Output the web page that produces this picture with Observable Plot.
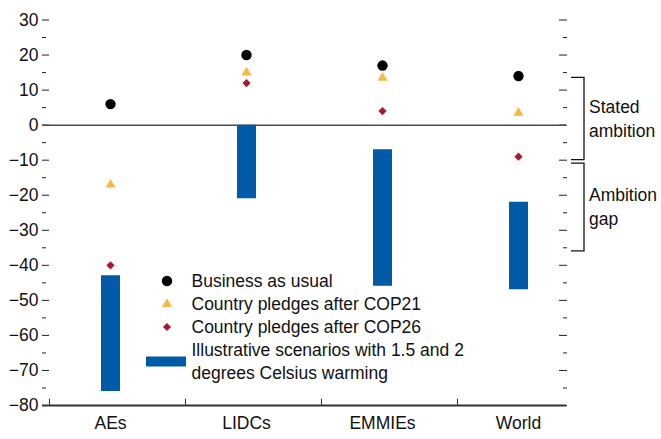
<!DOCTYPE html>
<html>
<head>
<meta charset="utf-8">
<script src="https://cdn.jsdelivr.net/npm/d3@7"></script>
<script src="https://cdn.jsdelivr.net/npm/@observablehq/plot@0.6"></script>
<style>
  html, body { margin: 0; padding: 0; background: #fff; }
  #chart { position: relative; width: 661px; height: 439px; }
</style>
</head>
<body>
<div id="chart"></div>
<script>
// ---- data ----
const categories = ["AEs", "LIDCs", "EMMIEs", "World"];
const businessAsUsual = [6, 20, 17, 14];
const pledgesCOP21 = [-17, 15, 13.5, 3.5];
const pledgesCOP26 = [-40, 12, 4, -9];
const scenarioLow = [-76, -21, -46, -47];
const scenarioHigh = [-43, 0, -7, -22];
const yTicksMajor = [30, 20, 10, 0, -10, -20, -30, -40, -50, -60, -70, -80];
const yTicksMinor = [25, 15, 5, -5, -15, -25, -35, -45, -55, -65, -75];
const brackets = [
  {label: ["Stated", "ambition"], top: 13.5, bottom: -10},
  {label: ["Ambition", "gap"], top: -11, bottom: -36}
];
const legendItems = [
  {kind: "dot", text: ["Business as usual"]},
  {kind: "triangle", text: ["Country pledges after COP21"]},
  {kind: "diamond", text: ["Country pledges after COP26"]},
  {kind: "bar", text: ["Illustrative scenarios with 1.5 and 2", "degrees Celsius warming"]}
];

const rows = categories.map((c, i) => ({
  cat: c, bau: businessAsUsual[i], cop21: pledgesCOP21[i], cop26: pledgesCOP26[i],
  low: scenarioLow[i], high: scenarioHigh[i]
}));

const BLUE = "#005AA6", YELLOW = "#F5B942", RED = "#A6192E";
const FONT = 17.5;
const FAMILY = '"Liberation Sans Narrow", "Arial Narrow", "Liberation Sans", sans-serif';
const xRange = [42, 586];
const bw = (xRange[1] - xRange[0]) / categories.length;
const fmt = d => d < 0 ? "\u2212" + Math.abs(d) : String(d);

const chart = Plot.plot({
  width: 661,
  height: 439,
  marginTop: 19.5,
  marginBottom: 34,
  marginLeft: 42,
  marginRight: 95,
  style: {fontFamily: FAMILY, fontSize: FONT + "px", color: "#111"},
  x: {type: "band", domain: categories, range: xRange, padding: 0, label: null},
  y: {domain: [-80, 30], label: null},
  marks: [
    Plot.axisY({ticks: yTicksMajor, tickSize: 0, tickPadding: 4, tickFormat: fmt, fontSize: FONT, label: null}),
    Plot.axisY({ticks: yTicksMajor, tickSize: 7, dx: 7, tickFormat: () => "", label: null, stroke: "#222"}),
    Plot.axisY({ticks: yTicksMinor, tickSize: 4, dx: 4, tickFormat: () => "", label: null, stroke: "#222"}),
    Plot.axisY({anchor: "right", ticks: yTicksMajor, tickSize: 8, dx: -8, tickFormat: () => "", label: null, stroke: "#222"}),
    Plot.axisY({anchor: "right", ticks: yTicksMinor, tickSize: 4, dx: -4, tickFormat: () => "", label: null, stroke: "#222"}),
    Plot.axisX({tickSize: 0, tickPadding: 11, fontSize: FONT, label: null}),
    Plot.ruleY([0], {stroke: "#4a4a4a", strokeWidth: 1.5}),
    Plot.ruleY([-80], {stroke: "#333", strokeWidth: 2}),
    Plot.ruleX(categories, {x: d => d, y1: -80, y2: -78.2, dx: -bw / 2 + 7, stroke: "#333", strokeWidth: 1}),
    Plot.ruleX(rows, {x: "cat", y1: "low", y2: "high", stroke: BLUE, strokeWidth: 19}),
    Plot.dot(rows, {x: "cat", y: "bau", r: 5.2, fill: "#000"}),
    Plot.dot(rows, {x: "cat", y: "cop21", symbol: "triangle", r: 3.7, fill: YELLOW}),
    Plot.dot(rows, {x: "cat", y: "cop26", symbol: "diamond2", r: 3.7, fill: RED})
  ]
});

document.getElementById("chart").appendChild(chart);

// ---- annotations drawn with the chart's y scale ----
const y = chart.scale("y");
const svg = d3.select(chart);
const g = svg.append("g").attr("text-anchor", "start").attr("font-family", FAMILY);
const bx0 = 571, bx1 = 584;
brackets.forEach(b => {
  const yt = y.apply(b.top), yb = y.apply(b.bottom);
  g.append("path")
    .attr("d", `M${bx0},${yt}H${bx1}V${yb}H${bx0}`)
    .attr("fill", "none").attr("stroke", "#111").attr("stroke-width", 1.3);
  const mid = (yt + yb) / 2;
  b.label.forEach((t, i) => {
    g.append("text")
      .attr("x", 589)
      .attr("y", mid + (i - (b.label.length - 1) / 2) * 24)
      .attr("dy", "0.35em")
      .attr("font-size", FONT)
      .attr("fill", "#111")
      .text(t);
  });
});

// ---- legend ----
const lg = svg.append("g").attr("text-anchor", "start").attr("font-family", FAMILY);
const symX = 167, textX = 191.5, lineH = 23;
let rowY = 281;
legendItems.forEach(item => {
  const n = item.text.length;
  const cy = rowY + (n - 1) * lineH / 2;
  if (item.kind === "dot") {
    lg.append("circle").attr("cx", symX).attr("cy", cy).attr("r", 5.2).attr("fill", "#000");
  } else if (item.kind === "triangle") {
    lg.append("path").attr("transform", `translate(${symX},${cy})`)
      .attr("d", d3.symbol(d3.symbolTriangle, Math.PI * 3.7 * 3.7)()).attr("fill", YELLOW);
  } else if (item.kind === "diamond") {
    lg.append("path").attr("transform", `translate(${symX},${cy})`)
      .attr("d", d3.symbol(d3.symbolDiamond2, Math.PI * 3.7 * 3.7)()).attr("fill", RED);
  } else {
    lg.append("rect").attr("x", 146).attr("y", cy - 5).attr("width", 40).attr("height", 10).attr("fill", BLUE);
  }
  item.text.forEach((t, i) => {
    lg.append("text").attr("x", textX).attr("y", rowY + i * lineH)
      .attr("dy", "0.35em").attr("font-size", FONT).attr("fill", "#111").text(t);
  });
  rowY += n * lineH;
});
</script>
</body>
</html>
